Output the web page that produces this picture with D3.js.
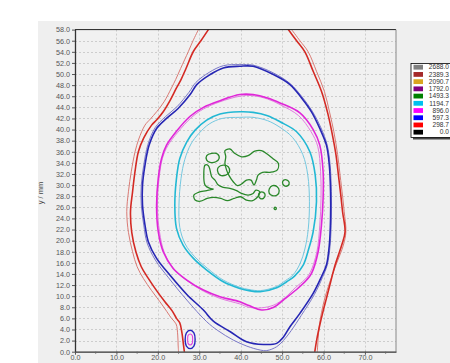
<!DOCTYPE html>
<html>
<head>
<meta charset="utf-8">
<script src="https://cdn.jsdelivr.net/npm/d3@7"></script>
<style>
  html, body { margin: 0; padding: 0; background: #fff; }
  svg { display: block; font-family: "Liberation Sans", Arial, sans-serif; }
</style>
</head>
<body>
<svg id="chart" width="450" height="363"></svg>
<script>
// axis ticks
const xTicks = [0, 10, 20, 30, 40, 50, 60, 70];
const yTicks = d3.range(0, 59, 2);

// legend levels
const legendLevels = ['2688.0', '2389.3', '2090.7', '1792.0', '1493.3', '1194.7', '896.0', '597.3', '298.7', '0.0'];
const legendColors = ['#808080', '#a52a2a', '#daa520', '#800080', '#008000', '#00c0f0', '#ff00ff', '#0000ff', '#ff0000', '#000000'];

// 298.7 level (open, leaves the plot at top and bottom)
const redLeftA = [[32.2,58],[30.4,56],[28.6,54.1],[26.8,51],[25.6,49],[24.5,47.5],[23,45.3],[21.3,43.2],[19.8,41.8],[18.5,40.8],[16.6,38.5],[15.3,36],[14.5,32.5],[13.9,28.8],[13.4,25.2],[13.7,21.5],[14.7,18],[16,15.3],[17.7,13.2],[19.7,11],[21.7,9],[23.5,7.3],[24.5,6],[25.3,5.2],[25.8,3.5],[26.2,1.2],[26.4,0]];
const redLeftB = [[29.8,58],[28.5,56],[27.4,54.1],[25.5,51],[24.3,49],[23.3,47.5],[21.5,45],[19.7,43.2],[18.2,41.9],[16.9,40.8],[15.4,38.3],[14.5,36],[13.6,32.5],[12.9,28.8],[12.5,25.2],[12.9,21.5],[13.9,18],[15,15.3],[16.5,13.2],[18.5,11],[20.5,9],[22.2,7.2],[23.3,6],[24.4,5],[24.8,3],[24.9,1.2],[25,0]];
const redRightA = [[51.5,58],[53.5,56],[55.5,54],[57.5,50.5],[59.5,46.9],[61,43],[62,39.6],[63,35.5],[63.6,31.8],[64.2,28],[64.6,25.2],[65.2,21.6],[64.4,19.2],[62.8,15.6],[61.7,12.5],[60.7,9.6],[59.8,7],[59.1,4.8],[58.4,2.3],[57.9,0]];
const redRightB = [[52.3,58],[54.3,56],[56.3,54],[58.3,50.5],[60.2,46.9],[61.5,43],[62.5,39.6],[63.4,35.5],[64,31.8],[64.6,28],[65,25.2],[65.4,21.6],[64.8,19.2],[63,15.6],[61.5,12.5],[60.3,9.6],[59.5,7],[59,4.8],[58.7,2.3],[58.5,0]];

// 597.3 level
const blueA = [[39.8,51.4],[43,51.4],[47.9,49.9],[51.9,48.1],[54.7,45.7],[57.1,43.2],[59.1,40.2],[60.7,37.2],[61.4,33.6],[61.7,28.8],[61.7,24],[61.4,19.2],[60.7,15.6],[59.5,13.5],[57.5,10.5],[54.3,6.9],[51.9,4.5],[50.3,2.6],[48.7,1.5],[45.5,1.3],[41.4,1.8],[37.5,3.6],[33.4,5.5],[31,7.5],[27,10.3],[22.9,13.8],[19.7,16.8],[17.7,19.8],[16.9,22.8],[16.3,26.4],[16.3,30],[16.9,33.6],[17.9,37.2],[19.7,40.2],[22.1,42],[24.9,43.8],[27.8,46.3],[29.4,48.1],[32.6,49.9],[35.8,51.1]];
const blueB = [[39.8,51.7],[43,51.6],[47.9,50.2],[51.9,48.3],[54.7,46],[57.3,43.3],[59.4,40.3],[60.9,37.2],[61.6,33.6],[61.9,28.8],[61.9,24],[61.6,19.2],[60.9,15.6],[59.7,13.3],[57.8,10.3],[54.6,6.5],[52.2,3.8],[50.3,2],[48.7,0.9],[46.3,0.2],[44.7,0.3],[41.5,1.0],[38.2,2.1],[34.5,3.8],[31.8,5.4],[27,9.3],[22.6,13.3],[19.4,16.5],[17.4,19.6],[16.6,22.8],[16,26.4],[16,30],[16.6,33.6],[17.6,37.3],[19.4,40.4],[21.8,42.3],[24.6,44.1],[27.5,46.7],[29.2,48.5],[32.4,50.3],[35.8,51.5]];
const blueSmall = [[27.8,3.85],[28.7,3.4],[29.0,2.2],[28.7,1.0],[27.8,0.55],[26.9,1.0],[26.6,2.2],[26.9,3.4]];

// 896.0 level
const magentaA = [[39.8,46.3],[43,46.3],[46.5,45.7],[49.5,44.8],[54.3,43],[57.5,40],[59.1,37.2],[59.9,32.4],[59.9,27.6],[59.5,22.8],[58.7,18],[57.1,14.1],[55.9,12.9],[53.5,11.2],[50.3,9.3],[48,8],[45.1,7.5],[42,8.3],[39.8,9],[35,9.9],[31,11.1],[27,12.9],[23.7,15],[21.3,18],[20.1,21.6],[19.7,26.4],[20.1,31.2],[20.9,34.8],[22.1,37.2],[24.5,39.7],[27.8,42.4],[31,44],[35,45.2]];
const magentaB = [[39.8,46.0],[43,46.1],[46.5,45.5],[49.5,44.5],[54,42.5],[57,39.6],[58.6,37],[59.3,32.4],[59.4,27.6],[59.1,22.8],[58.4,18],[56.8,14.3],[55.5,13],[53.3,11.6],[50.5,9.6],[48,8.4],[45,7.9],[42,8],[39.8,8.6],[35,9.6],[31,10.9],[27.2,12.7],[24,14.8],[21.6,17.8],[20.4,21.6],[19.9,26.4],[20.3,31.2],[21.1,34.8],[22.4,37.1],[24.8,39.5],[28,42.1],[31,43.7],[35,45]];
const magentaSmall = [[27.8,3.2],[28.3,2.9],[28.4,2.2],[28.3,1.5],[27.8,1.2],[27.3,1.5],[27.2,2.2],[27.3,2.9]];

// 1194.7 level
const cyanA = [[39.8,43.2],[43,43.1],[46.5,42.5],[49.5,41.4],[53.5,39.6],[56.7,36],[58,31.8],[58.3,27],[57.5,21.6],[56.3,18.2],[55.1,15.6],[53,13.6],[51.1,12.6],[48.7,11.5],[44.7,10.8],[42,11],[39.8,11.4],[35.8,12.6],[31.8,14.7],[28.6,16.8],[26.1,19.2],[24.5,22.2],[24.1,26.4],[24.5,31.2],[25.3,34.8],[27,37.8],[29,39.9],[31.8,41.7],[35,42.8]];
const cyanB = [[39.8,42.2],[43,42.2],[46.5,41.6],[49.5,40.4],[52.5,38.6],[55,35.5],[56.2,31.8],[56.6,27],[56.3,22],[55.5,18.5],[54.3,15.8],[52.6,13.8],[50.8,12.8],[48.5,11.7],[44.7,11],[42,11.2],[39.8,11.6],[35.8,12.9],[32,15],[28.9,17.1],[26.6,19.4],[25.3,22.4],[25.1,26.4],[25.6,31.2],[26.5,34.6],[28,37.4],[29.9,39.3],[32.4,41],[35.5,42]];

// 1493.3 level (patchy core)
const greenLoops = [
  [[31.8,35.3],[33,35.7],[34.4,35.6],[34.8,34.8],[34,34.2],[32.6,34.1],[31.8,34.5]],
  [[36.2,36.2],[37.4,36.5],[38.6,35.7],[40.2,35.1],[41.8,35.3],[43.4,36.1],[45,36.2],[46.4,35.6],[47.9,34.7],[49.1,33.9],[48.8,32.7],[47.1,32.3],[45.3,32.3],[44.2,31.8],[43.8,30.9],[43.2,30],[42.5,30.9],[41.4,30.9],[40.2,30.2],[39.2,29.9],[38.2,30.6],[37.2,31.7],[36.6,32.7],[36.2,33.9],[36.4,35.1]],
  [[31.4,33.6],[31.1,32.1],[31.4,30.0],[32.6,29.4],[33.4,29.3],[31.8,29.0],[29.8,28.7],[28.7,28.2],[29,27.3],[30.3,27.1],[31.9,27.6],[33.5,27.8],[35.2,27.6],[36.8,27.2],[38.4,27.6],[40,27.9],[41.4,27.3],[42.9,27.2],[43.7,27.6],[44.4,28.2],[44.6,28.8],[43.7,29.1],[43.0,28.5],[41.8,28.2],[40.2,28.5],[39,29],[37.4,29.4],[35.8,29.6],[34.6,30.0],[33.8,30.9],[33,31.5],[32.6,32.7],[32.2,33.5]],
  [[34.6,33.2],[35.8,33.6],[37,33.3],[37.3,32.4],[36.4,31.8],[35,31.8],[34.4,32.6]],
  [[44.3,28.2],[44.7,28.7],[45.5,28.7],[45.9,28.2],[45.5,27.6],[44.7,27.6]],
  [[46.9,29.3],[47.7,29.9],[48.8,29.7],[49.3,29.0],[48.8,28.2],[47.7,28.1],[46.9,28.5]],
  [[50.1,30.5],[50.4,30.9],[51.2,30.9],[51.7,30.5],[51.4,29.9],[50.5,29.9]],
  [[48.1,25.9],[48.4,26.0],[48.6,25.8],[48.4,25.6],[48.1,25.7]]
];

const svg = d3.select('#chart');
const W = 450, H = 363;
const plot = { left: 75, top: 29.6, right: 396, bottom: 351.7 };

const x = d3.scaleLinear().domain([0, 77.5]).range([plot.left, plot.right]);
const y = d3.scaleLinear().domain([0, 58]).range([plot.bottom, plot.top]);

// panel background
svg.append('rect').attr('x', 38).attr('y', 21).attr('width', W - 38).attr('height', H - 21).attr('fill', '#efefef');
svg.append('rect')
  .attr('x', plot.left).attr('y', plot.top)
  .attr('width', plot.right - plot.left).attr('height', plot.bottom - plot.top)
  .attr('fill', '#f1f1f1');

svg.append('clipPath').attr('id', 'clip')
  .append('rect')
  .attr('x', plot.left).attr('y', plot.top)
  .attr('width', plot.right - plot.left).attr('height', plot.bottom - plot.top);

// grid
const grid = svg.append('g').attr('stroke', '#c4c4c4').attr('stroke-width', 0.8).attr('stroke-dasharray', '2,2');
grid.selectAll('.hg').data(yTicks.filter(d => d > 0 && d < 58)).enter().append('line')
  .attr('x1', plot.left).attr('x2', plot.right)
  .attr('y1', d => Math.round(y(d)) + 0.5).attr('y2', d => Math.round(y(d)) + 0.5);
grid.selectAll('.vg').data(xTicks.filter(d => d > 0)).enter().append('line')
  .attr('y1', plot.top).attr('y2', plot.bottom)
  .attr('x1', d => Math.round(x(d)) + 0.5).attr('x2', d => Math.round(x(d)) + 0.5);

// contours
const gC = svg.append('g').attr('clip-path', 'url(#clip)').attr('fill', 'none')
  .attr('stroke-linejoin', 'round').attr('stroke-linecap', 'round');
const openLine = d3.line().x(d => x(d[0])).y(d => y(d[1])).curve(d3.curveCatmullRom.alpha(0.5));
const closedLine = d3.line().x(d => x(d[0])).y(d => y(d[1])).curve(d3.curveCatmullRomClosed.alpha(0.5));

const series = [
  { pts: redLeftB, closed: false, color: '#d97a74', w: 1.0 },
  { pts: redLeftA, closed: false, color: '#d42a24', w: 1.6 },
  { pts: redRightB, closed: false, color: '#d97a74', w: 1.0 },
  { pts: redRightA, closed: false, color: '#d42a24', w: 1.6 },
  { pts: blueB, closed: true, color: '#7a78c8', w: 1.0 },
  { pts: blueA, closed: true, color: '#2626b4', w: 1.6 },
  { pts: blueSmall, closed: true, color: '#2626c0', w: 1.4 },
  { pts: magentaB, closed: true, color: '#e27ae0', w: 1.0 },
  { pts: magentaA, closed: true, color: '#e026d8', w: 1.6 },
  { pts: magentaSmall, closed: true, color: '#e040e0', w: 1.1 },
  { pts: cyanB, closed: true, color: '#74c8e0', w: 1.0 },
  { pts: cyanA, closed: true, color: '#22b8d4', w: 1.6 }
];
series.forEach(s => {
  gC.append('path')
    .attr('d', s.closed ? closedLine(s.pts) : openLine(s.pts))
    .attr('stroke', s.color).attr('stroke-width', s.w);
});
gC.selectAll('.green').data(greenLoops).enter().append('path')
  .attr('d', d => closedLine(d))
  .attr('stroke', '#2a882a').attr('stroke-width', 1.3);

// frame
svg.append('line').attr('x1', plot.left).attr('x2', plot.right).attr('y1', plot.top).attr('y2', plot.top)
  .attr('stroke', '#222').attr('stroke-width', 1);
svg.append('line').attr('x1', plot.right).attr('x2', plot.right).attr('y1', plot.top).attr('y2', plot.bottom)
  .attr('stroke', '#888').attr('stroke-width', 1);

// axes
const fmt = d3.format('.1f');
const yAxis = d3.axisLeft(y).tickValues(yTicks).tickFormat(fmt).tickSizeInner(3).tickSizeOuter(0);
const xAxis = d3.axisBottom(x).tickValues(xTicks).tickFormat(fmt).tickSizeInner(3).tickSizeOuter(0);

const gy = svg.append('g').attr('transform', `translate(${plot.left},0)`).call(yAxis);
const gx = svg.append('g').attr('transform', `translate(0,${plot.bottom})`).call(xAxis);
[gx, gy].forEach(g => {
  g.select('.domain').attr('stroke', '#333').attr('stroke-width', 1.3);
  g.selectAll('.tick line').attr('stroke', '#555');
  g.selectAll('.tick text').attr('fill', '#555').attr('font-size', 7.2);
});
gy.selectAll('.tick text').attr('x', -5);
gx.selectAll('.tick text').attr('y', 3.5);

// minor x ticks
svg.append('g').selectAll('line').data(d3.range(5, 77.5, 10)).enter().append('line')
  .attr('x1', d => x(d)).attr('x2', d => x(d))
  .attr('y1', plot.bottom).attr('y2', plot.bottom + 2)
  .attr('stroke', '#666');

// y label
svg.append('text')
  .attr('transform', `translate(43,193) rotate(-90)`)
  .attr('text-anchor', 'middle')
  .attr('font-size', 7.5).attr('fill', '#444')
  .text('y / mm');

// legend (box runs past the right edge, as in the source window)
const lg = svg.append('g').attr('transform', 'translate(411,63.5)');
const lgW = 46, lgH = 74, rowH = 7.22;
lg.append('rect').attr('x', 2).attr('y', 2).attr('width', lgW).attr('height', lgH).attr('fill', '#444');
lg.append('rect').attr('x', 0).attr('y', 0).attr('width', lgW).attr('height', lgH)
  .attr('fill', '#fff').attr('stroke', '#000').attr('stroke-width', 0.8);
const rows = lg.selectAll('.row').data(legendLevels).enter().append('g')
  .attr('transform', (d, i) => `translate(0,${3.5 + i * rowH})`);
rows.append('rect').attr('x', 2.5).attr('y', -2.2).attr('width', 9.5).attr('height', 4.8)
  .attr('fill', (d, i) => legendColors[i]);
rows.append('text').attr('x', 38).attr('y', 2.4).attr('text-anchor', 'end')
  .attr('font-size', 6.6).attr('fill', '#333')
  .text(d => d);
</script>
</body>
</html>
